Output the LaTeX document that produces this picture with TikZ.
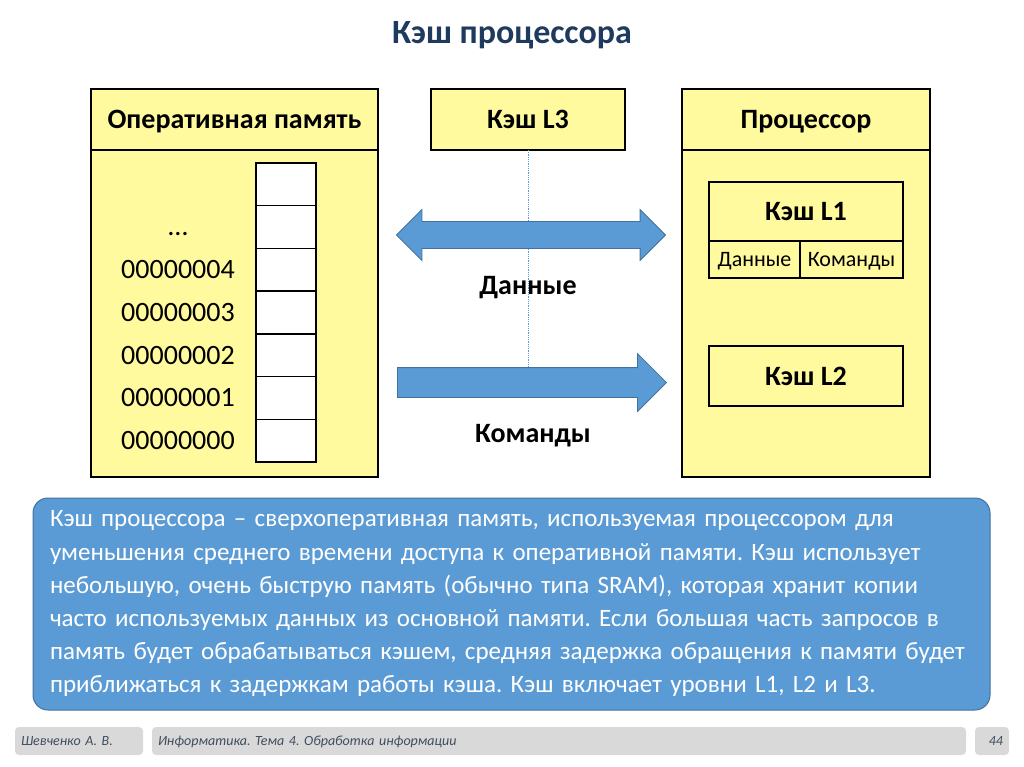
\documentclass[tikz,border=0pt]{standalone}
\usepackage{fontspec}
\setmainfont{Carlito}
\usetikzlibrary{positioning,shapes.arrows}
\definecolor{slidetitle}{HTML}{1F3A5F}
\definecolor{boxyellow}{HTML}{FFFA9E}
\definecolor{arrblue}{HTML}{5B9BD5}
\definecolor{arredge}{HTML}{41719C}
\definecolor{footgray}{HTML}{D9D9D9}
\definecolor{foottext}{HTML}{3F4D5F}
\frenchspacing
\begin{document}
\begin{tikzpicture}[
  x=1pt, y=-1pt,
  ybox/.style={draw=black, line width=1.2pt, fill=boxyellow, inner sep=0pt, outer sep=0pt,
               text depth=0pt},
  hdr/.style={ybox, minimum height=61pt, font=\fontsize{28}{32}\selectfont\bfseries},
  body/.style={ybox, minimum height=327pt},
  cell/.style={draw=black, line width=1.4pt, fill=white, minimum width=60pt, minimum height=42.7pt,
               inner sep=0pt, outer sep=0pt},
  addr/.style={font=\fontsize{28}{32}\selectfont, inner sep=0pt, text height=17.7pt, text depth=0pt},
  sub/.style={ybox, font=\fontsize{22}{26}\selectfont, minimum height=37pt},
  blab/.style={font=\fontsize{28}{32}\selectfont\bfseries, inner sep=0pt, text depth=0pt},
  barrow/.style={fill=arrblue, draw=arredge, line width=0.8pt, inner sep=0pt},
  foot/.style={fill=footgray, rounded corners=4pt, minimum height=28pt, inner sep=6pt,
               text depth=0pt, font=\fontsize{14}{17}\selectfont\itshape, text=foottext}
]
\useasboundingbox (0,0) rectangle (1024,767);
% ----- title -----
\node[font=\fontsize{34}{40}\selectfont\bfseries, text=slidetitle] (title) at (512,35) {Кэш процессора};
% ----- main memory -----
\node[hdr, minimum width=287pt] (ramhead) at (234.5,119.5) {Оперативная память};
\node[body, minimum width=287pt, below=0pt of ramhead] (ram) {};
\foreach \i in {0,...,6}{\node[cell] (c\i) at (286,{184.35+42.7*\i}) {};}
\foreach \i/\t in {1/…, 2/00000004, 3/00000003, 4/00000002, 5/00000001, 6/00000000}{
  \node[addr] (a\i) at (c\i -| 178,0) {\t};}
% ----- cache L3 -----
\node[hdr, minimum width=194pt] (l3) at (528,119.5) {Кэш L3};
% ----- processor -----
\node[hdr, minimum width=248pt] (cpuhead) at (806,119.5) {Процессор};
\node[body, minimum width=248pt, below=0pt of cpuhead] (cpu) {};
\node[ybox, minimum width=194pt, minimum height=59pt, font=\fontsize{28}{32}\selectfont\bfseries]
  (l1) at (806,211.5) {Кэш L1};
\node[sub, minimum width=91pt, anchor=north west] (l1d) at (l1.south west) {Данные};
\node[sub, minimum width=103pt, anchor=north east] (l1c) at (l1.south east) {Команды};
\node[ybox, minimum width=194pt, minimum height=60pt, font=\fontsize{28}{32}\selectfont\bfseries]
  (l2) at (806,376) {Кэш L2};
% ----- transfer arrows -----
\node[barrow, double arrow, minimum height=269pt, minimum width=50pt, inner ysep=13pt,
      double arrow head extend=12pt] (dataarr) at (531,235) {};
\node[barrow, single arrow, minimum height=269pt, minimum width=57pt, inner ysep=14.5pt,
      single arrow head extend=14pt, anchor=west] (cmdarr) at (397,382.5) {};
\draw[arrblue, densely dotted, line width=0.8pt] (l3.south) -- (l3.south |- dataarr.north);
\draw[arrblue, densely dotted, line width=0.8pt] (l3.south |- dataarr.south) -- (l3.south |- cmdarr.north);
\node[blab] (datalab) at (528,285) {Данные};
\node[blab] (cmdlab) at (533,433) {Команды};
% ----- description -----
\node[fill=arrblue, draw=arredge, line width=1pt, rounded corners=15pt, minimum width=957pt,
      minimum height=212pt, text width=923pt, align=left, inner xsep=17pt, text=white,
      font=\fontsize{25}{33.2}\selectfont] (desc) at (511.5,604)
  {Кэш процессора – сверхоперативная память, используемая процессором для\\
   уменьшения среднего времени доступа к оперативной памяти. Кэш использует\\
   небольшую, очень быструю память (обычно типа SRAM), которая хранит копии\\
   часто используемых данных из основной памяти. Если большая часть запросов в\\
   память будет обрабатываться кэшем, средняя задержка обращения к памяти будет\\
   приближаться к задержкам работы кэша. Кэш включает уровни L1, L2 и L3.};
% ----- footer -----
\node[foot, minimum width=128pt, text width=116pt, align=left] (author) at (79,741) {Шевченко А. В.};
\node[foot, minimum width=814pt, text width=802pt, align=left] (course) at (559,741)
  {Информатика. Тема 4. Обработка информации};
\node[foot, minimum width=34pt, text width=22pt, align=right] (page) at (992,741) {44};
\end{tikzpicture}
\end{document}
